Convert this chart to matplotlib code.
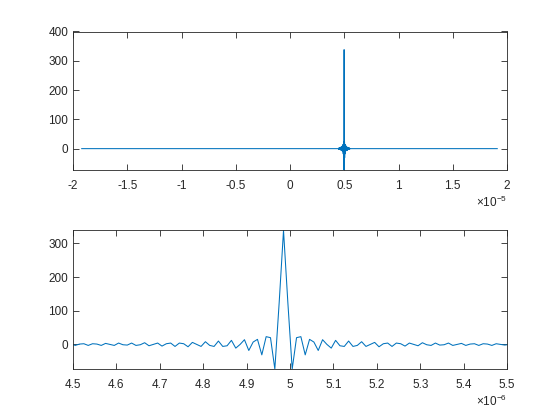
import matplotlib
matplotlib.use("Agg")
import matplotlib.pyplot as plt
import numpy as np
from matplotlib.ticker import FuncFormatter, MultipleLocator

plt.rcParams['font.family'] = ['Liberation Sans', 'DejaVu Sans']
plt.rcParams['mathtext.fontset'] = 'custom'
plt.rcParams['mathtext.rm'] = 'Liberation Sans'

# samples around the pulse peak
t_peak = 4.985e-6
dt = 0.01e-6
# right half of the pulse, k = 0..52 samples after the peak
right_half = [338, 124, -73, 20, 23, -31, 15, 7, -18, 14, 0, -11, 12, -4, -6,
              10, -6, -3, 8, -6, 0, 6, -7, 2, 4, -6, 4, 2, -5, 4, 0, -4, 5,
              -1, -3, 4, -2, -1, 4, -3, 0, 3, -3, 1, 2, -3, 2, 1, -3, 2, 0,
              -2, 0]
# left half mirrors the right, k = -50..-1
left_half = right_half[1:51][::-1]
y_pulse = np.array(left_half + right_half, dtype=float)
k = np.arange(-len(left_half), len(right_half))
t_pulse = t_peak + k * dt

# whole record in the upper panel is flat zero outside the pulse
t_first, t_last = -1.92e-5, 1.91e-5
t_full = np.concatenate([[t_first], t_pulse, [t_last]])
y_full = np.concatenate([[0.0], y_pulse, [0.0]])

line_color = '#0072BD'
ax_color = '#262626'

fig = plt.figure(figsize=(5.6, 4.2), dpi=100)
ax1 = fig.add_axes([0.1304, 0.5952, 0.775, 0.3298])
ax2 = fig.add_axes([0.1304, 0.1214, 0.775, 0.3298])


def style(ax, scale, exp_txt):
    for s in ax.spines.values():
        s.set_color(ax_color)
        s.set_linewidth(0.6)
    ax.tick_params(direction='in', top=True, right=True, length=4,
                   width=0.6, colors=ax_color, labelsize=8.5)
    ax.tick_params(axis='x', pad=7)
    ax.tick_params(axis='y', pad=3.5)
    ax.xaxis.set_major_formatter(
        FuncFormatter(lambda v, p: '%g' % (round(v / scale, 6) + 0.0)))
    ax.annotate(exp_txt, xy=(1, 0), xycoords='axes fraction',
                xytext=(0, -32), textcoords='offset pixels',
                ha='right', va='center', fontsize=8.5, color=ax_color)


ax1.plot(t_full, y_full, color=line_color, lw=0.75)
ax1.set_xlim(-2e-5, 2e-5)
ax1.set_ylim(-73, 400)
ax1.xaxis.set_major_locator(MultipleLocator(0.5e-5))
ax1.set_yticks([0, 100, 200, 300, 400])
style(ax1, 1e-5, r'×10$^{\mathregular{-5}}$')

ax2.plot(t_pulse, y_pulse, color=line_color, lw=0.75)
ax2.set_xlim(4.5e-6, 5.5e-6)
ax2.set_ylim(-73, 338)
ax2.set_xticks(np.round(np.arange(4.5, 5.51, 0.1), 1) * 1e-6)
ax2.set_yticks([0, 100, 200, 300])
style(ax2, 1e-6, r'×10$^{\mathregular{-6}}$')

fig.savefig('out.png', dpi=100, facecolor='white')
